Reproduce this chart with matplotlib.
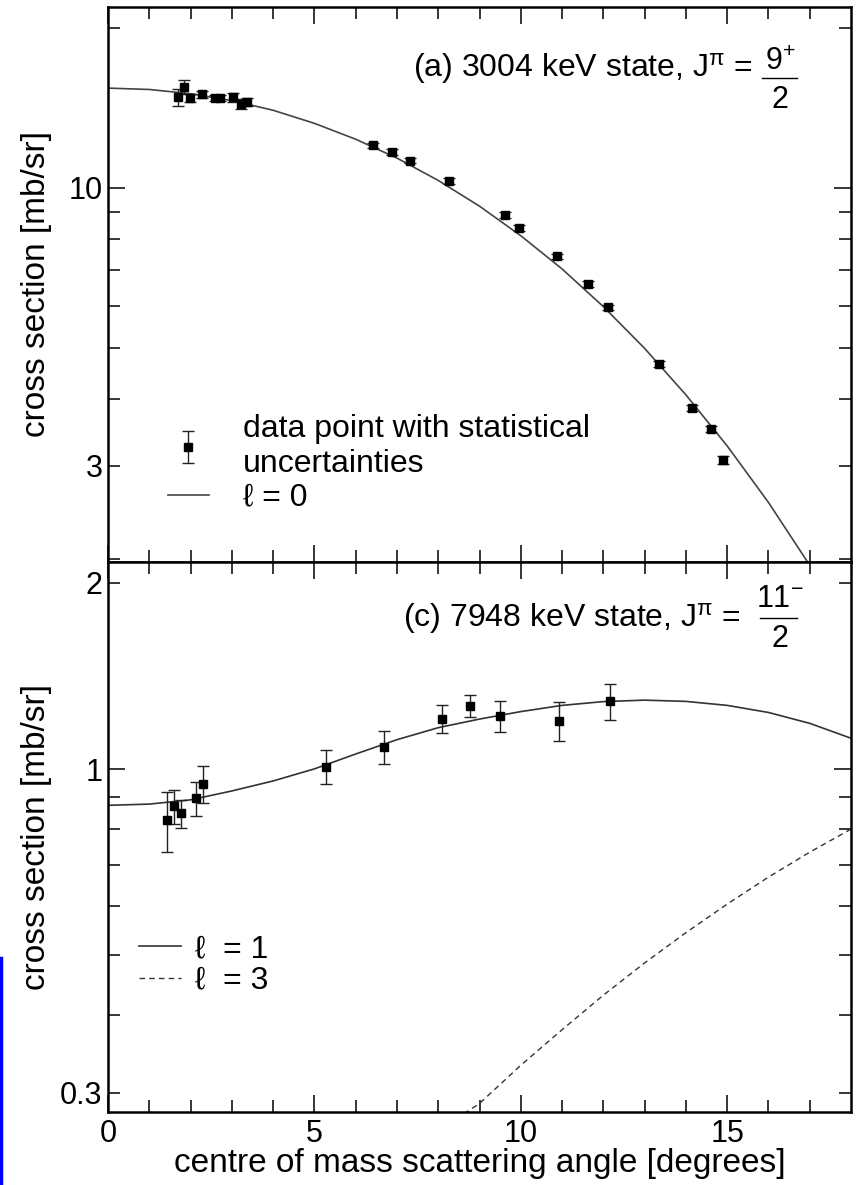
import matplotlib
matplotlib.use("Agg")
import matplotlib.pyplot as plt
from matplotlib.lines import Line2D
from matplotlib.ticker import FixedLocator, FixedFormatter

plt.rcParams['font.family'] = ['Liberation Sans', 'DejaVu Sans']
plt.rcParams['mathtext.fontset'] = 'custom'
plt.rcParams['mathtext.rm'] = 'Liberation Sans'
plt.rcParams['mathtext.it'] = 'Liberation Sans:italic'
plt.rcParams['mathtext.sf'] = 'Liberation Sans'

# ---- panel (a): 3004 keV state ----
angle_a = [1.69, 1.84, 1.98, 2.28, 2.60, 2.72, 3.03, 3.21, 3.37,
           6.42, 6.88, 7.32, 8.25, 9.62, 9.96, 10.88, 11.64, 12.11,
           13.35, 14.15, 14.61, 14.91]
xsec_a = [14.8, 15.5, 14.75, 15.0, 14.75, 14.75, 14.8, 14.4, 14.5,
          12.02, 11.70, 11.26, 10.31, 8.89, 8.40, 7.43, 6.59, 5.96,
          4.66, 3.85, 3.52, 3.08]
err_a = [0.55, 0.45, 0.25, 0.25, 0.2, 0.2, 0.3, 0.3, 0.25,
         0.15, 0.15, 0.14, 0.13, 0.11, 0.11, 0.09, 0.08, 0.07,
         0.06, 0.05, 0.05, 0.05]

# calculated angular distributions, sampled every degree
calc_angle = list(range(0, 19))
calc_l0 = [15.41, 15.32, 15.04, 14.60, 14.00, 13.23, 12.35, 11.38, 10.33,
           9.24, 8.13, 7.04, 5.98, 4.99, 4.08, 3.27, 2.56, 1.95, 1.45]

# ---- panel (c): 7948 keV state ----
angle_c = [1.42, 1.59, 1.77, 2.13, 2.29, 5.28, 6.68, 8.09, 8.78, 9.49, 10.92, 12.15]
xsec_c = [0.827, 0.871, 0.848, 0.897, 0.945, 1.009, 1.087, 1.205, 1.266, 1.218, 1.197, 1.288]
err_c = [0.092, 0.055, 0.045, 0.057, 0.065, 0.064, 0.066, 0.063, 0.050, 0.069, 0.085, 0.085]

calc_l1 = [0.874, 0.878, 0.892, 0.922, 0.957, 1.001, 1.058, 1.116, 1.167, 1.205,
           1.239, 1.268, 1.286, 1.293, 1.287, 1.268, 1.235, 1.186, 1.122]
calc_l3 = [0.10, 0.12, 0.14, 0.16, 0.18, 0.20, 0.22, 0.248, 0.26, 0.288,
           0.332, 0.379, 0.431, 0.486, 0.544, 0.605, 0.669, 0.734, 0.80]

LABEL_FS = 24
TICK_FS = 22
TEXT_FS = 23
W, H = 859, 1185
fig = plt.figure(figsize=(W / 100, H / 100), dpi=100)
left, right = 108 / W, 851 / W
ax1 = fig.add_axes([left, 1 - 561.7 / H, right - left, (561.7 - 7) / H])
ax2 = fig.add_axes([left, 1 - 1112 / H, right - left, (1112 - 561.7) / H])

for ax in (ax1, ax2):
    ax.set_yscale('log')
    ax.set_xlim(0, 18)
    ax.xaxis.set_major_locator(FixedLocator([0, 5, 10, 15]))
    ax.xaxis.set_minor_locator(FixedLocator([v for v in range(1, 18) if v % 5]))
    ax.tick_params(which='both', direction='in', top=True, right=True,
                   width=1.1, labelsize=TICK_FS)
    ax.tick_params(axis='y', which='both', pad=4)
    ax.tick_params(axis='x', which='both', pad=5)
    ax.tick_params(which='major', length=12)
    ax.tick_params(which='minor', length=8.5)
    for s in ax.spines.values():
        s.set_linewidth(1.8)

# ---------- top panel ----------
ax1.set_ylim(1.98, 21.9)
ax1.yaxis.set_major_locator(FixedLocator([10]))
ax1.yaxis.set_minor_locator(FixedLocator([2, 3, 4, 5, 6, 7, 8, 9, 20]))
ax1.yaxis.set_major_formatter(FixedFormatter(['10']))
ax1.yaxis.set_minor_formatter(FixedFormatter(['', '3', '', '', '', '', '', '', '']))
ax1.tick_params(axis='x', labelbottom=False)

ax1.plot(calc_angle, calc_l0, color='#444444', lw=1.2, label='ℓ = 0')
ax1.errorbar(angle_a, xsec_a, yerr=err_a, fmt='s', color='black', ms=5.5,
             ecolor='#222222', elinewidth=1.0, capsize=4, capthick=1.0,
             label='data point with statistical\nuncertainties')
ax1.set_ylabel('cross section [mb/sr]', fontsize=LABEL_FS)
ax1.yaxis.set_label_coords(-0.0754, 0.5)

handles, labels = ax1.get_legend_handles_labels()
ax1.legend(handles[::-1], labels[::-1], loc='lower left',
           bbox_to_anchor=(0.0808, 0.088), frameon=False, fontsize=TEXT_FS,
           handlelength=1.28, handletextpad=1.07, labelspacing=0.12,
           borderpad=0, borderaxespad=0)

ax1.text(0.4105, 0.8738, '(a) 3004 keV state, J$^{\\mathrm{\\pi}}$ =',
         transform=ax1.transAxes, fontsize=TEXT_FS, ha='left', va='baseline')
ax1.text(0.9044, 0.8864, '9$^{+}$', transform=ax1.transAxes, fontsize=22,
         ha='center', va='baseline')
ax1.text(0.9044, 0.8179, '2', transform=ax1.transAxes, fontsize=22,
         ha='center', va='baseline')
ax1.add_line(Line2D([0.880, 0.927], [0.872, 0.872], transform=ax1.transAxes,
                    color='black', lw=1.0))

# ---------- bottom panel ----------
ax2.set_ylim(0.279, 2.165)
ax2.yaxis.set_major_locator(FixedLocator([1]))
ax2.yaxis.set_minor_locator(FixedLocator([0.3, 0.4, 0.5, 0.6, 0.7, 0.8, 0.9, 2]))
ax2.yaxis.set_major_formatter(FixedFormatter(['1']))
ax2.yaxis.set_minor_formatter(FixedFormatter(['0.3', '', '', '', '', '', '', '2']))

ax2.plot(calc_angle, calc_l1, color='#333333', lw=1.2, label='ℓ  = 1')
ax2.plot(calc_angle, calc_l3, color='#333333', lw=1.0, ls=(0, (4, 3)), label='ℓ  = 3')
ax2.errorbar(angle_c, xsec_c, yerr=err_c, fmt='s', color='black', ms=5.5,
             ecolor='#222222', elinewidth=1.0, capsize=4, capthick=1.0)
ax2.set_ylabel('cross section [mb/sr]', fontsize=LABEL_FS)
ax2.yaxis.set_label_coords(-0.0754, 0.5)
ax2.set_xlabel('centre of mass scattering angle [degrees]', fontsize=LABEL_FS)
ax2.xaxis.set_label_coords(0.5, -0.0654)
ax2.legend(loc='lower left', bbox_to_anchor=(0.0417, 0.211), frameon=False,
           fontsize=TEXT_FS, handlelength=1.31, handletextpad=0.44,
           labelspacing=0.05, borderpad=0, borderaxespad=0)

ax2.text(0.397, 0.8813, '(c) 7948 keV state, J$^{\\mathrm{\\pi}}$ =',
         transform=ax2.transAxes, fontsize=TEXT_FS, ha='left', va='baseline')
ax2.text(0.9044, 0.9177, '11$^{-}$', transform=ax2.transAxes, fontsize=22,
         ha='center', va='baseline')
ax2.text(0.9044, 0.845, '2', transform=ax2.transAxes, fontsize=22,
         ha='center', va='baseline')
ax2.add_line(Line2D([0.8775, 0.927], [0.8977, 0.8977], transform=ax2.transAxes,
                    color='black', lw=1.0))

# thin blue rule along the left edge
fig.add_artist(Line2D([0.0015, 0.0015], [0, 1 - 958 / H], transform=fig.transFigure,
                      color='blue', lw=2.5))

fig.savefig('out.png', dpi=100)
